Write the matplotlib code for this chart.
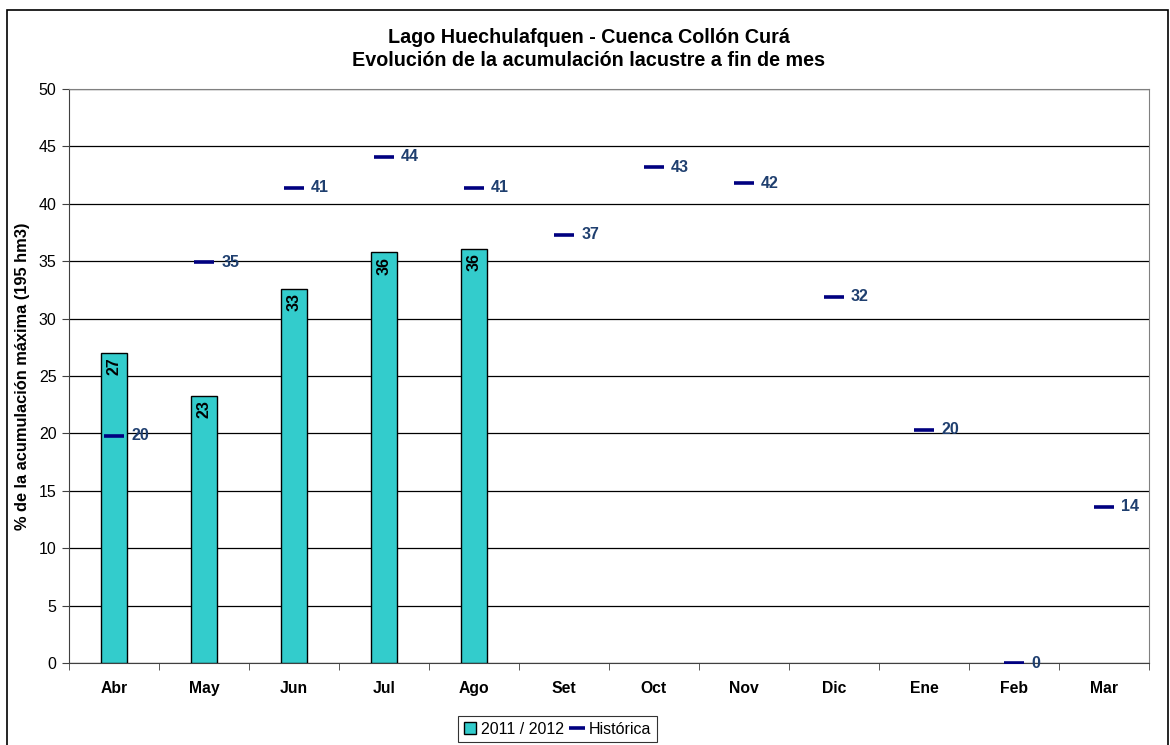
import matplotlib.pyplot as plt
import numpy as np
from matplotlib.patches import Rectangle
from matplotlib.lines import Line2D

plt.rcParams['font.family'] = ['Liberation Sans', 'DejaVu Sans']

meses = ['Abr', 'May', 'Jun', 'Jul', 'Ago', 'Set', 'Oct', 'Nov', 'Dic', 'Ene', 'Feb', 'Mar']
actual = [27.0, 23.3, 32.6, 35.8, 36.1]          # 2011 / 2012
historica = [19.8, 34.9, 41.4, 44.1, 41.4, 37.3, 43.2, 41.8, 31.9, 20.3, 0.0, 13.6]

fig = plt.figure(figsize=(11.7, 7.45), dpi=100)
ax = fig.add_axes([0.059, 0.110, 0.923, 0.7705])

# marco exterior
fig.patches.append(Rectangle((0.006, -0.1), 0.992, 1.086, transform=fig.transFigure,
                             fill=False, edgecolor='black', linewidth=1.2))

x = np.arange(len(meses))
ax.bar(x[:len(actual)], actual, width=0.29, color='#33CCCC', edgecolor='black',
       linewidth=1, zorder=3)
for xi, v in zip(x, actual):
    ax.text(xi, v - 0.4, f'{v:.0f}', rotation=90, ha='center', va='top',
            fontsize=11.5, fontweight='bold', zorder=5)

ax.plot(x, historica, linestyle='none', marker='_', markersize=14, mew=2.6,
        color='#000080', zorder=4)
for xi, v in zip(x, historica):
    ax.text(xi + 0.19, v, f'{v:.0f}', ha='left', va='center', fontsize=11.5,
            fontweight='bold', color='#1F3F6F', zorder=5)

ax.set_xlim(-0.5, len(meses) - 0.5)
ax.set_ylim(0, 50)
ax.set_yticks(range(0, 51, 5))
ax.yaxis.grid(True, color='black', linewidth=0.9)
ax.set_axisbelow(True)
ax.set_xticks(x)
ax.set_xticklabels(meses, fontweight='bold', fontsize=11.3)
ax.set_xticks(np.arange(-0.5, len(meses)), minor=True)
ax.tick_params(axis='x', which='major', length=0, pad=13)
ax.tick_params(axis='x', which='minor', length=5, color='#404040')
ax.tick_params(axis='y', length=5, labelsize=11.5, color='#404040', pad=4)
for s in ['left', 'bottom']:
    ax.spines[s].set_color('#404040')
for s in ['top', 'right']:
    ax.spines[s].set_color('#808080')

ax.set_ylabel('% de la acumulación máxima (195 hm3)', fontweight='bold', fontsize=11.8)
ax.yaxis.set_label_coords(-0.036, 0.5)

fig.text(0.503, 0.950, 'Lago Huechulafquen - Cuenca Collón Curá', ha='center', va='center',
         fontsize=14.2, fontweight='bold')
fig.text(0.503, 0.919, 'Evolución de la acumulación lacustre a fin de mes', ha='center',
         va='center', fontsize=14.2, fontweight='bold')

handles = [Line2D([], [], linestyle='none', marker='s', markersize=9,
                  markerfacecolor='#33CCCC', markeredgecolor='black'),
           Line2D([], [], linestyle='none', marker='_', markersize=11, mew=2.6,
                  color='#000080')]
leg = fig.legend(handles, ['2011 / 2012', 'Histórica'], loc='center',
                 bbox_to_anchor=(0.4765, 0.021), ncol=2, fontsize=11.5, frameon=True,
                 fancybox=False, handlelength=0.7, handletextpad=0.35, columnspacing=0.5,
                 borderpad=0.35, borderaxespad=0)
leg.get_frame().set_edgecolor('black')
leg.get_frame().set_linewidth(0.8)

fig.savefig('out.png', dpi=100)
